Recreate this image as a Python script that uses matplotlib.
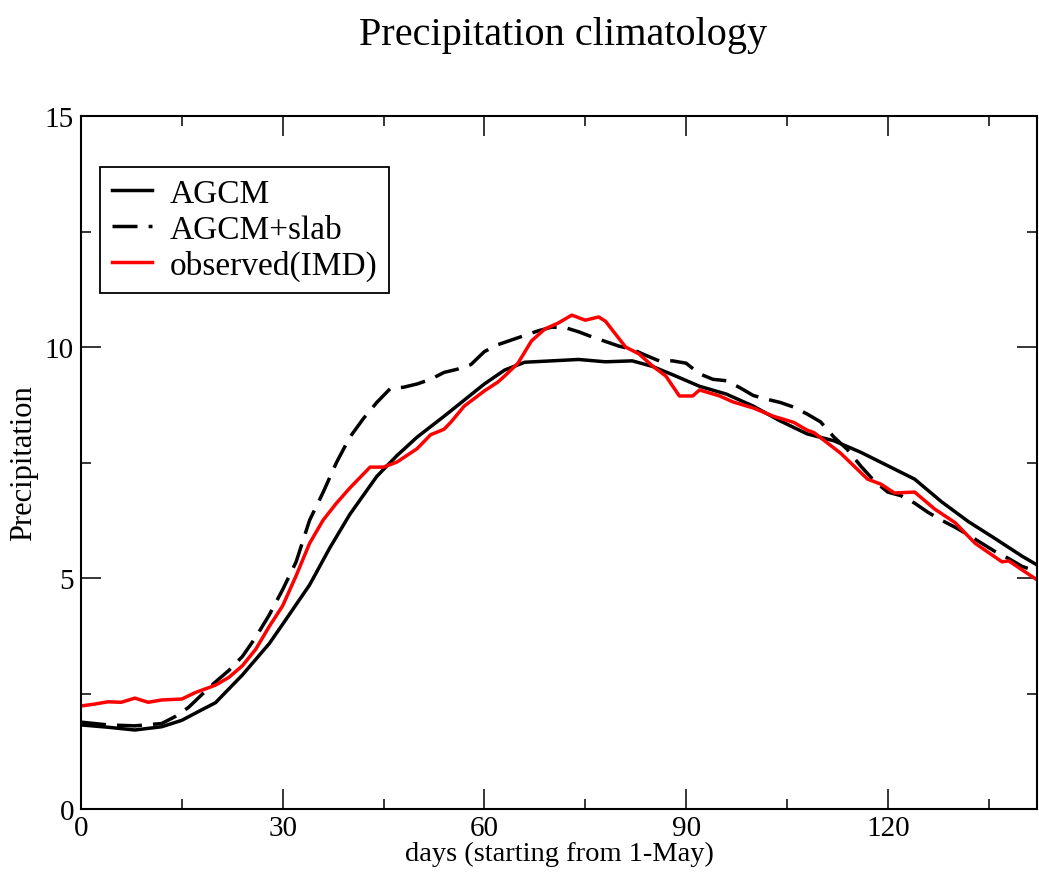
import matplotlib
matplotlib.use("Agg")
import matplotlib.pyplot as plt
from matplotlib.ticker import MultipleLocator

# AGCM (solid black)
agcm_days = [0, 4, 8, 12, 15, 18, 20, 24, 28, 30, 34, 37, 40, 44, 47, 50, 54, 57, 60, 63,
             66, 70, 74, 78, 82, 85, 88, 92, 96, 100, 104, 108, 112, 116, 120, 124, 128,
             132, 136, 140, 142]
agcm_vals = [1.82, 1.77, 1.71, 1.78, 1.92, 2.15, 2.3, 2.9, 3.58, 4.0, 4.85, 5.65, 6.38, 7.2,
             7.65, 8.05, 8.5, 8.85, 9.2, 9.5, 9.67, 9.7, 9.73, 9.68, 9.7, 9.58, 9.4, 9.15,
             8.98, 8.72, 8.4, 8.12, 7.97, 7.72, 7.43, 7.14, 6.65, 6.22, 5.85, 5.47, 5.3]

# AGCM+slab (dashed black)
slab_days = [0, 4, 8, 12, 14, 16, 18, 20, 22, 24, 26, 28, 30, 32, 34, 36, 38, 40, 42, 44,
             46, 48, 50, 52, 54, 56, 58, 60, 62, 64, 66, 68, 70, 72, 74, 76, 78, 80, 82, 84,
             86, 88, 90, 92, 94, 96, 98, 100, 102, 104, 106, 108, 110, 112, 114, 116, 118,
             120, 122, 124, 126, 128, 130, 132, 134, 136, 138, 140, 142]
slab_vals = [1.88, 1.82, 1.8, 1.85, 2.0, 2.2, 2.48, 2.75, 3.0, 3.3, 3.72, 4.2, 4.75, 5.35,
             6.25, 6.85, 7.5, 8.05, 8.45, 8.8, 9.1, 9.13, 9.2, 9.3, 9.45, 9.52, 9.62, 9.9,
             10.05, 10.15, 10.25, 10.35, 10.43, 10.42, 10.33, 10.22, 10.12, 10.02, 9.95,
             9.82, 9.7, 9.7, 9.65, 9.42, 9.3, 9.27, 9.12, 8.95, 8.87, 8.8, 8.7, 8.55, 8.38,
             8.05, 7.78, 7.42, 7.1, 6.86, 6.78, 6.62, 6.42, 6.25, 6.1, 5.93, 5.75, 5.57,
             5.42, 5.25, 5.15]

# observed (IMD), red
obs_days = [0, 2, 4, 6, 8, 10, 12, 15, 17, 20, 22, 24, 26, 28, 30, 32, 34, 36, 38, 40, 42,
            43, 45, 47, 50, 52, 54, 55, 57, 60, 62, 63, 65, 67, 69, 71, 73, 75, 77, 78, 81,
            83, 85, 87, 89, 91, 92, 95, 97, 100, 103, 106, 108, 109, 113, 117, 119, 121,
            124, 127, 130, 133, 136, 137, 138, 142]
obs_vals = [2.23, 2.27, 2.32, 2.31, 2.4, 2.31, 2.36, 2.38, 2.52, 2.68, 2.85, 3.1, 3.46, 3.95,
            4.4, 5.05, 5.75, 6.25, 6.62, 6.95, 7.25, 7.4, 7.4, 7.51, 7.8, 8.1, 8.22, 8.37,
            8.72, 9.05, 9.24, 9.37, 9.65, 10.13, 10.39, 10.52, 10.69, 10.58, 10.65, 10.56,
            10.0, 9.85, 9.59, 9.37, 8.94, 8.94, 9.07, 8.94, 8.81, 8.68, 8.5, 8.37, 8.2, 8.15,
            7.7, 7.14, 7.03, 6.84, 6.86, 6.49, 6.2, 5.75, 5.45, 5.35, 5.37, 4.98]

plt.rcParams["font.family"] = ["Liberation Serif", "DejaVu Serif"]

fig = plt.figure(figsize=(10.39, 8.78), dpi=100)
ax = fig.add_axes([81 / 1039, 1 - 810 / 878, 956 / 1039, 693 / 878])

lw = 2.5
ax.plot(agcm_days, agcm_vals, color="black", lw=lw, label="AGCM")
ax.plot(slab_days, slab_vals, color="black", lw=lw, linestyle=(0, (7.2, 3.2)), label="AGCM+slab")
ax.plot(obs_days, obs_vals, color="red", lw=lw, label="observed(IMD)")

ax.set_xlim(0, 142.2)
ax.set_ylim(0, 15)
ax.xaxis.set_major_locator(MultipleLocator(30))
ax.xaxis.set_minor_locator(MultipleLocator(15))
ax.yaxis.set_major_locator(MultipleLocator(5))
ax.yaxis.set_minor_locator(MultipleLocator(2.5))

ax.tick_params(which="both", direction="in", top=True, right=True, width=1.1, labelsize=21)
ax.tick_params(which="major", length=14.4)
ax.tick_params(which="minor", length=7.2)
ax.tick_params(axis="x", pad=4)
ax.tick_params(axis="y", pad=5)
for s in ax.spines.values():
    s.set_linewidth(1.5)

ax.set_xlabel("days (starting from 1-May)", fontsize=20.5, labelpad=0)
ax.set_ylabel("Precipitation", fontsize=22, labelpad=5)
fig.text(0.542, 0.96, "Precipitation climatology", fontsize=29, ha="center", va="center")

leg = ax.legend(loc="upper left", bbox_to_anchor=(19 / 956, 1 - 51 / 693), borderaxespad=0,
                fontsize=24, handlelength=1.2, handletextpad=0.55, labelspacing=0.15,
                fancybox=False, framealpha=1, edgecolor="black", borderpad=0.35)
leg.get_frame().set_linewidth(1.3)

fig.savefig("out.png", dpi=100)
